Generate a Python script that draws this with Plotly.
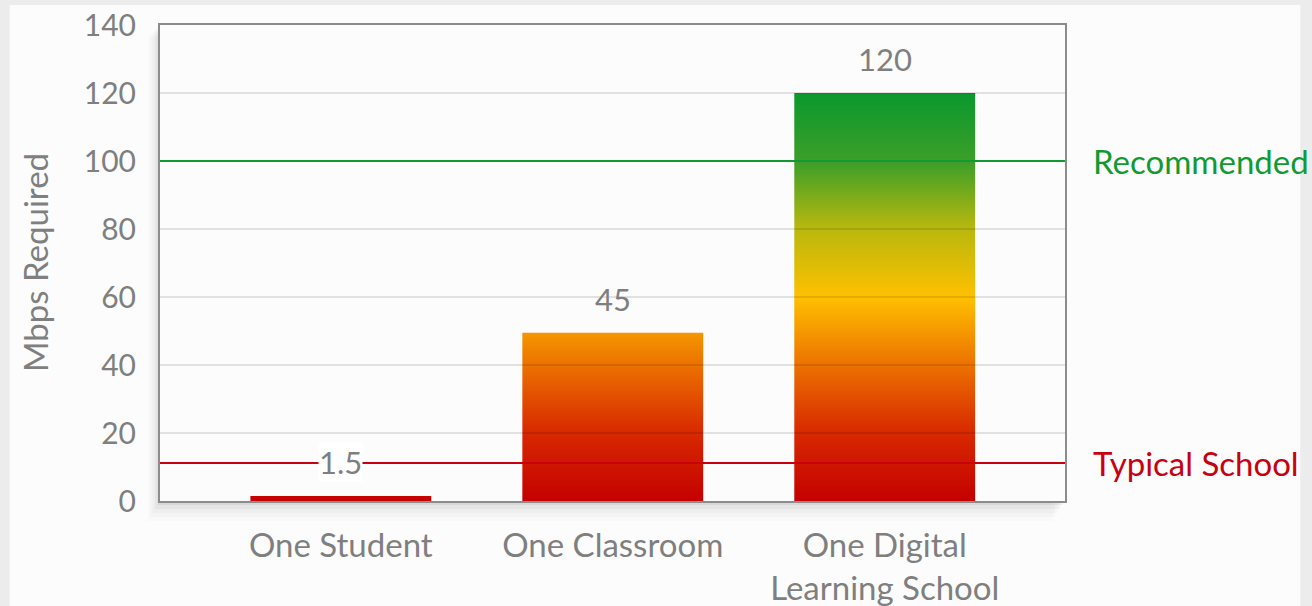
import plotly.graph_objects as go

categories = ["One Student", "One Classroom", "One Digital<br>Learning School"]
bar_heights = [1.5, 49.5, 120]
value_labels = ["1.5", "45", "120"]
recommended = 100
typical_school = 11.2
y_ticks = [0, 20, 40, 60, 80, 100, 120, 140]

BAR_W = 0.665
FONT = "Lato"
GRAY = "#7f7f7f"
GREEN = "#119a32"
RED = "#c8000f"
PW, PH = 905, 476  # plot area size in px (for shadow offsets)

colorscale = [
    [0.0, "#c40000"],
    [0.17, "#d82a00"],
    [0.33, "#ec7000"],
    [0.5, "#ffc000"],
    [0.67, "#b7b80e"],
    [0.83, "#3d9f28"],
    [1.0, "#0a982e"],
]

fig = go.Figure()

for i, v in enumerate(bar_heights):
    xs = [i - BAR_W / 2, i + BAR_W / 2, i + BAR_W / 2, i - BAR_W / 2, i - BAR_W / 2]
    ys = [0, 0, v, v, 0]
    fig.add_trace(go.Scatter(
        x=xs, y=ys, mode="lines", fill="toself",
        line=dict(width=0, color="rgba(0,0,0,0)"),
        fillgradient=dict(type="vertical", colorscale=colorscale, start=0, stop=120),
        hoverinfo="skip", showlegend=False,
    ))

x_range = [-0.665, 2.663]
fig.add_trace(go.Scatter(x=x_range, y=[recommended, recommended], mode="lines",
                         line=dict(color=GREEN, width=2), showlegend=False, hoverinfo="skip"))
fig.add_trace(go.Scatter(x=x_range, y=[typical_school, typical_school], mode="lines",
                         line=dict(color=RED, width=2), showlegend=False, hoverinfo="skip"))

# gridlines drawn on top (semi-transparent like the original)
for t in y_ticks[1:-1]:
    if t == recommended:
        continue
    fig.add_shape(type="line", xref="x domain", x0=0, x1=1, yref="y", y0=t, y1=t,
                  line=dict(color="rgba(0,0,0,0.14)", width=1.5), layer="above")

# value labels
for i, (v, lab) in enumerate(zip(bar_heights, value_labels)):
    fig.add_annotation(x=i, y=v, text=lab, showarrow=False, yshift=34,
                       font=dict(family=FONT, size=31, color=GRAY),
                       bgcolor="white" if i == 0 else "rgba(0,0,0,0)", borderpad=0)

# line labels
fig.add_annotation(xref="x domain", x=1, y=recommended, xanchor="left", xshift=26,
                   text="Recommended", showarrow=False,
                   font=dict(family=FONT, size=33, color=GREEN))
fig.add_annotation(xref="x domain", x=1, y=typical_school, xanchor="left", xshift=26,
                   text="Typical School", showarrow=False,
                   font=dict(family=FONT, size=33, color=RED))

# y-axis title
fig.add_annotation(xref="paper", yref="paper", x=-0.138, y=0.5, text="Mbps Required",
                   textangle=-90, showarrow=False, xanchor="center", yanchor="middle",
                   font=dict(family=FONT, size=33, color=GRAY))

# background panel
fig.add_shape(type="rect", xref="paper", yref="paper", x0=-0.166, x1=1.26, y0=-0.3, y1=1.0 + 20 / PH,
              fillcolor="#fcfcfc", line=dict(width=0), layer="below")
# soft shadow outside the plot area (left + bottom)
for k, a in enumerate([0.05, 0.035, 0.025, 0.018, 0.012]):
    off = (k + 1) * 2.5
    fig.add_shape(type="rect", xref="paper", yref="paper",
                  x0=-off / PW, x1=0, y0=-off * 1.6 / PH, y1=1 - off / PH,
                  fillcolor=f"rgba(0,0,0,{a})", line=dict(width=0), layer="below")
    fig.add_shape(type="rect", xref="paper", yref="paper",
                  x0=0, x1=1 - off / PW, y0=-off * 1.6 / PH, y1=0,
                  fillcolor=f"rgba(0,0,0,{a})", line=dict(width=0), layer="below")

fig.update_layout(
    width=1312, height=606,
    margin=dict(l=160, r=247, t=25, b=105),
    paper_bgcolor="#ececec",
    plot_bgcolor="white",
    font=dict(family=FONT, color=GRAY),
    showlegend=False,
)
fig.update_xaxes(
    range=x_range, tickvals=[0, 1, 2], ticktext=categories,
    tickfont=dict(family=FONT, size=33, color=GRAY),
    showgrid=False, zeroline=False, showline=True, linecolor="#8c8c8c", linewidth=2,
    mirror=True, ticks="", ticklabelstandoff=14, automargin=False,
)
fig.update_yaxes(
    range=[0, 140], tickvals=y_ticks, tickfont=dict(family=FONT, size=30, color=GRAY),
    showgrid=False, zeroline=False, showline=True, linecolor="#8c8c8c", linewidth=2,
    mirror=True, ticks="", ticklabelstandoff=16, automargin=False,
)

fig.write_html(
    "out.html",
    config={"displayModeBar": False},
    post_script="document.body.style.margin='0';document.body.style.background='#ececec';",
)
